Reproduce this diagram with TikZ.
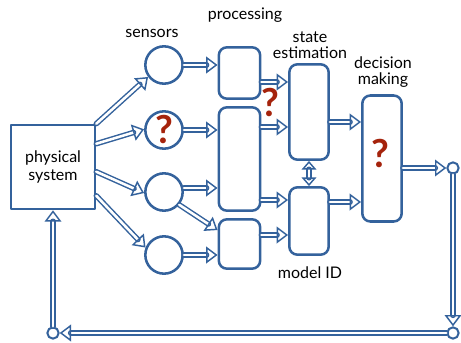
\documentclass[tikz,border=0pt]{standalone}
\usepackage{fontspec}
\setmainfont{Lato}
\usetikzlibrary{arrows.meta}

\definecolor{linkblue}{RGB}{52,98,156}
\definecolor{qred}{RGB}{165,35,12}

\tikzset{
  box/.style={draw=linkblue, line width=1.9pt, rounded corners=6pt, fill=white},
  sensor/.style={draw=linkblue, line width=1.9pt, circle, minimum size=28pt, inner sep=0pt},
  junction/.style={draw=linkblue, line width=1.5pt, circle, minimum size=8.5pt, inner sep=0pt, fill=white},
  tip/.style={-{Triangle[open, length=8.5pt, width=12.5pt]}},
  dbl/.style={draw=linkblue, line width=1.1pt, double=white, double distance=1.9pt, tip},
  label/.style={font=\fontsize{12}{12}\selectfont, align=center, text=black},
  qmark/.style={font=\fontsize{29}{29}\selectfont\bfseries, text=qred, inner sep=0pt}
}

\begin{document}
\begin{tikzpicture}[x=0.75pt, y=-0.75pt, line cap=round, line join=round]
  \useasboundingbox (0,0) rectangle (461,343);

  % Plant
  \node[draw=linkblue, line width=1.9pt, minimum width=63pt, minimum height=63pt,
        label, font=\fontsize{12}{13}\selectfont] (phys) at (53,167) {physical\\system};

  % Sensors
  \node[sensor] (s1) at (164,65) {};
  \node[sensor] (s2) at (164,130) {};
  \node[sensor] (s3) at (164,192) {};
  \node[sensor] (s4) at (164,255) {};
  \node[qmark] at (s2) {?};

  % Processing
  \node[box, minimum width=31pt, minimum height=38.5pt] (p1) at (239.5,73) {};
  \node[box, minimum width=31pt, minimum height=77.5pt] (p2) at (239.5,159) {};
  \node[box, minimum width=31pt, minimum height=37pt] (p3) at (239.5,244) {};

  % Estimation and identification
  \node[box, minimum width=29.5pt, minimum height=71.5pt] (st) at (309,112) {};
  \node[box, minimum width=29.5pt, minimum height=50.5pt] (mid) at (309,221) {};

  % Decision
  \node[box, minimum width=29.5pt, minimum height=94.5pt] (dm) at (382,158.5) {};
  \node[qmark] at (380,153) {?};

  % Feedback junctions
  \node[junction] (o1) at (453,168) {};
  \node[junction] (o2) at (453,333) {};
  \node[junction] (o3) at (53,333) {};

  % Labels
  \node[label] (lsens) at (152,33) {sensors};
  \node[label] (lproc) at (245,15) {processing};
  \node[label] (lstate) at (310,45) {state\\estimation};
  \node[label] (ldec) at (383,72) {decision\\making};
  \node[label] (lmid) at (310,273) {model ID};

  % Plant to sensors
  \draw[dbl] (phys.north east) -- (s1.217);
  \draw[dbl] ([yshift=-15pt]phys.north east) -- (s2.178);
  \draw[dbl] ([yshift=-36pt]phys.north east) -- (s3.183);
  \draw[dbl] ([yshift=-54pt]phys.north east) -- (s4.158);

  % Sensors to processing
  \draw[dbl] (s1.east) -- (s1.east -| p1.west);
  \draw[dbl] (s2.east) -- (s2.east -| p2.west);
  \draw[dbl] ([yshift=3pt]s3.east) -- ([yshift=3pt]s3.east -| p2.west);
  \draw[dbl] (s3.-40) -- ([yshift=-9pt]p3.north west);
  \draw[dbl] (s4.east) -- (s4.east -| p3.west);

  % Processing to estimation
  \draw[dbl] (p1.east |- 0,82) -- (st.west |- 0,82);
  \draw[dbl] (p2.east |- 0,127) -- (st.west |- 0,127);
  \node[qmark] at (270,103) {?};
  \draw[dbl] (p2.east |- 0,200) -- (mid.west |- 0,200);
  \draw[dbl] (p3.east |- 0,235) -- (mid.west |- 0,235);
  \draw[dbl, {Triangle[open, length=6.5pt, width=11pt]}-{Triangle[open, length=6.5pt, width=11pt]}]
    (st.south) -- (mid.north);

  % Estimation to decision
  \draw[dbl] (st.east |- 0,122) -- (dm.west |- 0,122);
  \draw[dbl] (mid.east |- 0,202) -- (dm.west |- 0,202);

  % Feedback loop
  \draw[dbl] (dm.east |- o1) -- (o1);
  \draw[dbl] (o1) -- (o2);
  \draw[dbl] (o2) -- (o3);
  \draw[dbl] (o3) -- (phys);
\end{tikzpicture}
\end{document}
